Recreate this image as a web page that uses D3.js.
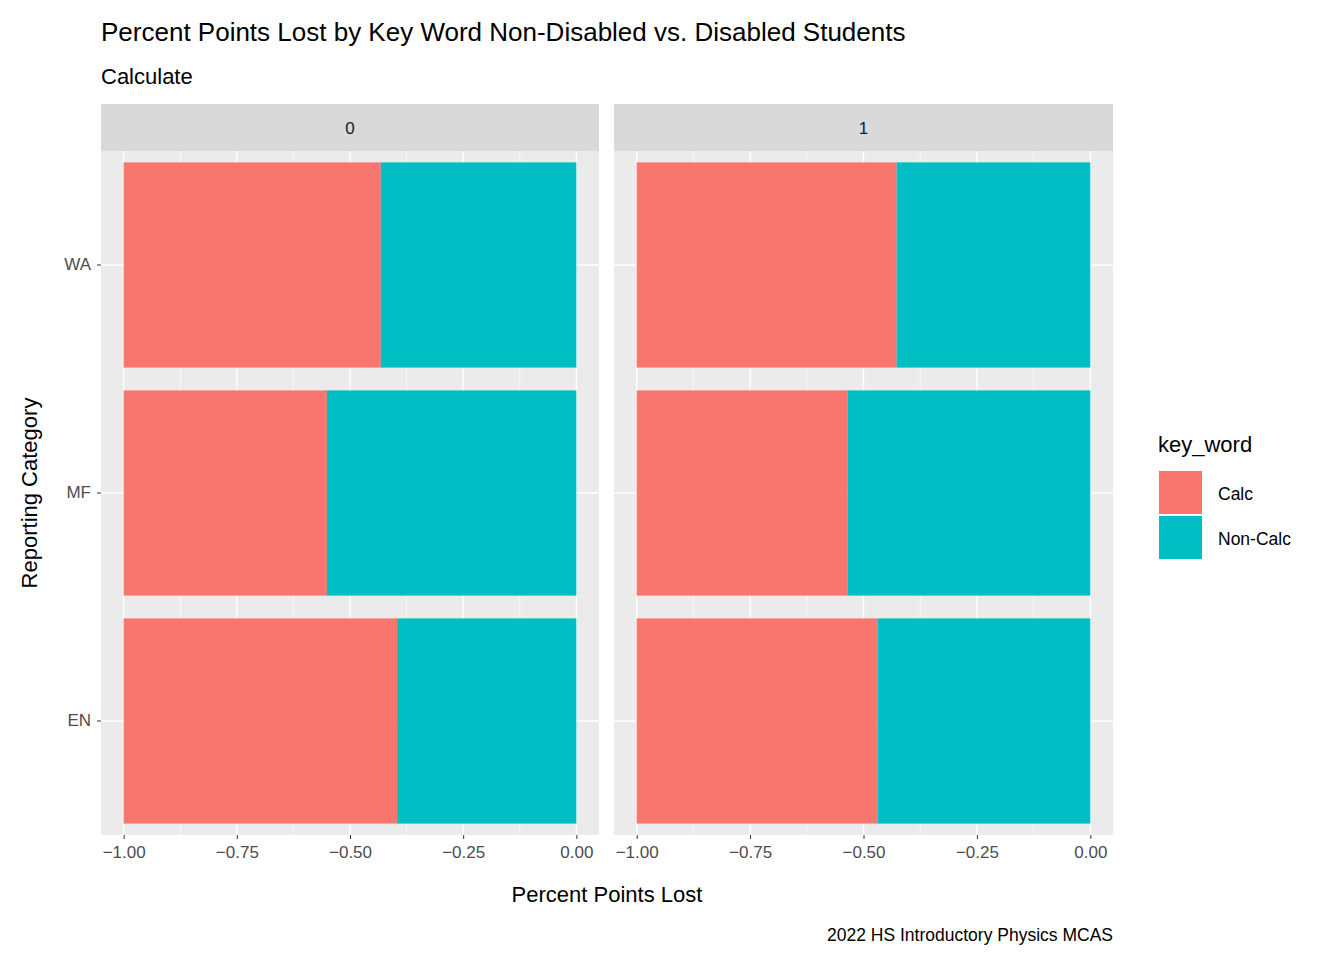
<!DOCTYPE html>
<html>
<head>
<meta charset="utf-8">
<script src="https://cdn.jsdelivr.net/npm/d3@7"></script>
<style>
body { margin: 0; background: #fff; }
text { font-family: Arial, "Liberation Sans", sans-serif; }
</style>
</head>
<body>
<svg id="chart" width="1344" height="960"></svg>
<script>
// data
var facets = ["0", "1"];
var categories = ["WA", "MF", "EN"];
var keyWords = ["Calc", "Non-Calc"];
var nonCalcShare0 = [0.432, 0.551, 0.396];
var nonCalcShare1 = [0.427, 0.535, 0.469];
var xTicks = [-1, -0.75, -0.5, -0.25, 0];
var colors = { "Calc": "#F8766D", "Non-Calc": "#00BFC4" };

var svg = d3.select("#chart");
var panelTop = 151, panelBottom = 835, stripTop = 104;
var panels = [{ x0: 101, x1: 599, shares: nonCalcShare0 },
              { x0: 614, x1: 1113, shares: nonCalcShare1 }];

var y = d3.scaleBand().domain(categories).range([panelTop, panelBottom]).padding(0.1).paddingOuter(0.05);
y.paddingInner(0.1).paddingOuter(0.05);

panels.forEach(function (p, i) {
    var x = d3.scaleLinear().domain([-1.05, 0.05]).range([p.x0, p.x1]);
    var g = svg.append("g");

    g.append("rect").attr("x", p.x0).attr("y", stripTop).attr("width", p.x1 - p.x0)
        .attr("height", panelTop - stripTop).attr("fill", "#D9D9D9");
    g.append("text").attr("x", (p.x0 + p.x1) / 2).attr("y", (stripTop + panelTop) / 2 + 6)
        .attr("text-anchor", "middle").attr("font-size", 17).attr("fill", "#1a1a1a").text(facets[i]);

    g.append("rect").attr("x", p.x0).attr("y", panelTop).attr("width", p.x1 - p.x0)
        .attr("height", panelBottom - panelTop).attr("fill", "#EBEBEB");

    var minor = [-0.875, -0.625, -0.375, -0.125];
    g.selectAll(".minor").data(minor).enter().append("line")
        .attr("x1", d => x(d)).attr("x2", d => x(d)).attr("y1", panelTop).attr("y2", panelBottom)
        .attr("stroke", "#fff").attr("stroke-width", 0.7);
    g.selectAll(".major").data(xTicks).enter().append("line")
        .attr("x1", d => x(d)).attr("x2", d => x(d)).attr("y1", panelTop).attr("y2", panelBottom)
        .attr("stroke", "#fff").attr("stroke-width", 1.4);
    g.selectAll(".ymajor").data(categories).enter().append("line")
        .attr("x1", p.x0).attr("x2", p.x1)
        .attr("y1", d => y(d) + y.bandwidth() / 2).attr("y2", d => y(d) + y.bandwidth() / 2)
        .attr("stroke", "#fff").attr("stroke-width", 1.4);

    categories.forEach(function (c, j) {
        var nc = p.shares[j];
        g.append("rect").attr("x", x(-1)).attr("y", y(c)).attr("width", x(-nc) - x(-1))
            .attr("height", y.bandwidth()).attr("fill", colors["Calc"]);
        g.append("rect").attr("x", x(-nc)).attr("y", y(c)).attr("width", x(0) - x(-nc))
            .attr("height", y.bandwidth()).attr("fill", colors["Non-Calc"]);
    });

    var axis = d3.axisBottom(x).tickValues(xTicks).tickSize(4).tickPadding(4)
        .tickFormat(d3.format(".2f"));
    var ax = svg.append("g").attr("transform", "translate(0," + panelBottom + ")").call(axis);
    ax.select(".domain").remove();
    ax.selectAll("line").attr("stroke", "#333");
    ax.selectAll("text").attr("font-size", 17).attr("fill", "#4D4D4D").attr("dy", "0.9em");
});

var yAxis = d3.axisLeft(y).tickSize(4).tickPadding(4);
var ay = svg.append("g").attr("transform", "translate(101,0)").call(yAxis);
ay.select(".domain").remove();
ay.selectAll("line").attr("stroke", "#333");
ay.selectAll("text").attr("font-size", 17).attr("fill", "#4D4D4D").attr("dx", "-2");

svg.append("text").attr("x", 101).attr("y", 41).attr("font-size", 26).attr("fill", "#000")
    .text("Percent Points Lost by Key Word Non-Disabled vs. Disabled Students");
svg.append("text").attr("x", 101).attr("y", 84).attr("font-size", 22).attr("fill", "#000")
    .text("Calculate");
svg.append("text").attr("x", 607).attr("y", 902).attr("text-anchor", "middle")
    .attr("font-size", 22).text("Percent Points Lost");
svg.append("text").attr("transform", "translate(37,493) rotate(-90)").attr("text-anchor", "middle")
    .attr("font-size", 22).text("Reporting Category");
svg.append("text").attr("x", 1113).attr("y", 941).attr("text-anchor", "end")
    .attr("font-size", 17.5).text("2022 HS Introductory Physics MCAS");

var leg = svg.append("g");
leg.append("text").attr("x", 1158).attr("y", 452).attr("font-size", 22).text("key_word");
keyWords.forEach(function (k, i) {
    leg.append("rect").attr("x", 1159).attr("y", 471 + i * 45).attr("width", 43).attr("height", 43)
        .attr("fill", colors[k]);
    leg.append("text").attr("x", 1218).attr("y", 500 + i * 45).attr("font-size", 17.5).text(k);
});
</script>
</body>
</html>
